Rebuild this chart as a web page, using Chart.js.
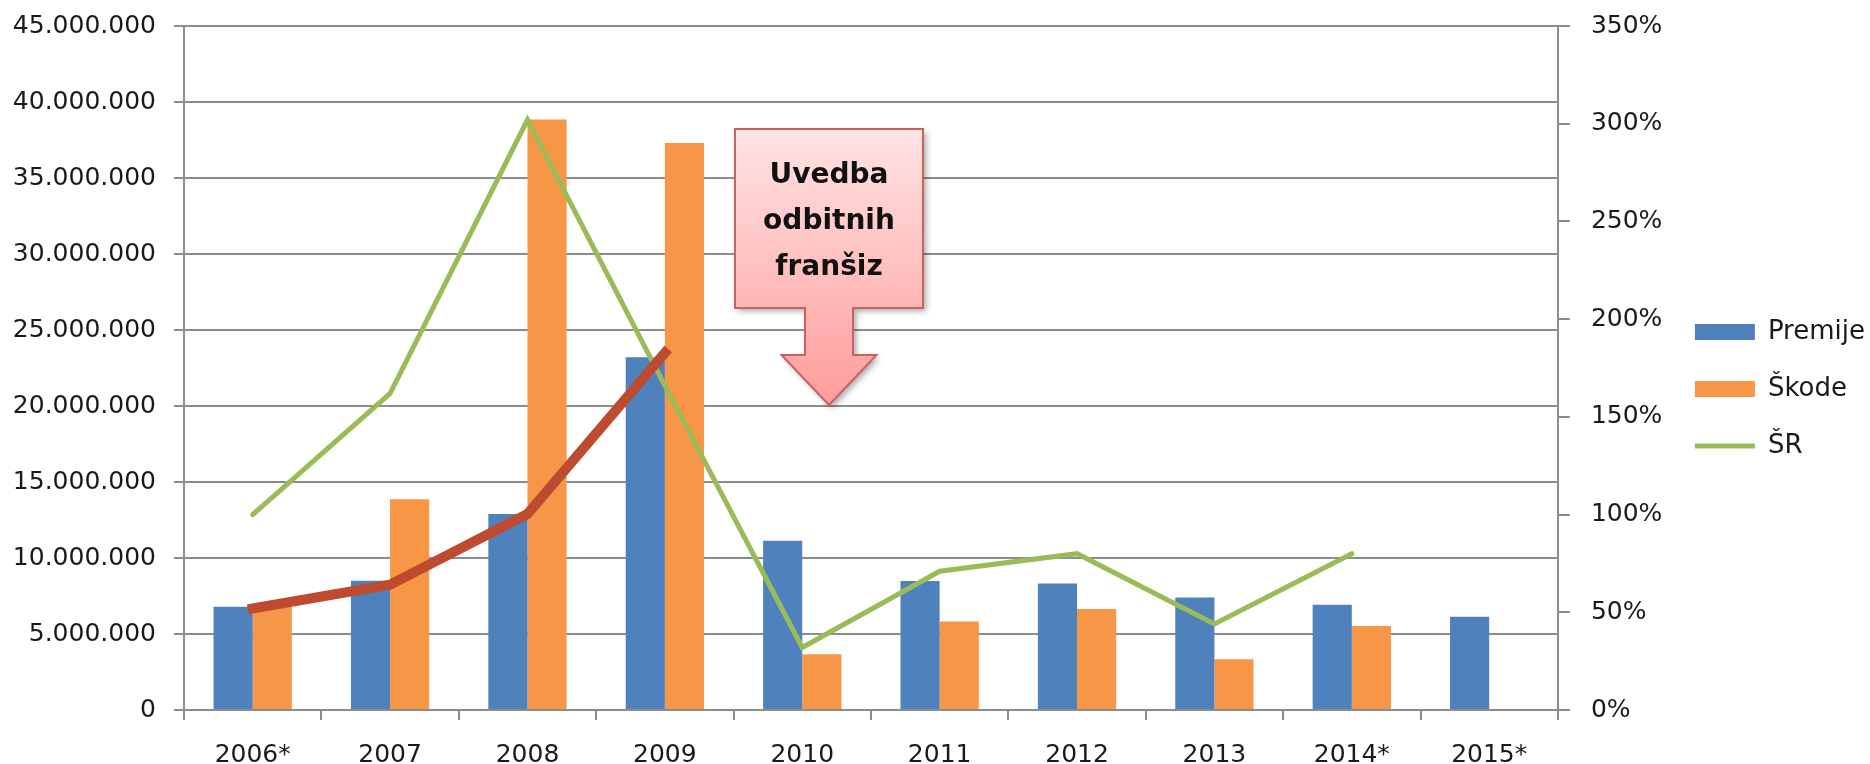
<!DOCTYPE html>
<html>
<head>
<meta charset="utf-8">
<script src="https://cdn.jsdelivr.net/npm/chart.js@4.4.0/dist/chart.umd.min.js"></script>
<style>
  html, body { margin: 0; padding: 0; background: #fff; }
</style>
</head>
<body>
<canvas id="chart" width="1870" height="764"></canvas>
<script>
// podatki, odčitani s slike
const years = ["2006*", "2007", "2008", "2009", "2010", "2011", "2012", "2013", "2014*", "2015*"];
const premije = [6800000, 8500000, 12900000, 23200000, 11140000, 8480000, 8320000, 7400000, 6930000, 6140000];
const skode = [6800000, 13860000, 38850000, 37300000, 3660000, 5820000, 6640000, 3340000, 5530000, null];
const sr = [100, 162, 302, 166, 32, 71, 80, 44, 80, null];
const trend = [6680000, 8240000, 12900000, 23500000, null, null, null, null, null, null];
const leftMax = 45000000, leftStep = 5000000;
const rightMax = 350, rightStep = 50;
const calloutText = ["Uvedba", "odbitnih", "franšiz"];

const gridColor = "#8c8c8c";
const textColor = "#1a1a1a";

Chart.defaults.font.family = "'DejaVu Sans', sans-serif";
Chart.defaults.font.size = 25;
Chart.defaults.color = textColor;

// formatiranje z pikami (45.000.000)
function dots(v) {
  return String(v).replace(/\B(?=(\d{3})+(?!\d))/g, ".");
}

// puščica z napisom
const callout = {
  id: "callout",
  afterDatasetsDraw(chart) {
    const ctx = chart.ctx;
    const a = chart.chartArea;
    const L = a.left + 551, R = a.left + 739, T = a.top + 103, B = a.top + 282;
    const cx = a.left + 645, headY = a.top + 329, tip = a.top + 379;
    const sw = 24, hw = 47.5;

    ctx.save();
    ctx.beginPath();
    ctx.moveTo(L, T);
    ctx.lineTo(R, T);
    ctx.lineTo(R, B);
    ctx.lineTo(cx + sw, B);
    ctx.lineTo(cx + sw, headY);
    ctx.lineTo(cx + hw, headY);
    ctx.lineTo(cx, tip);
    ctx.lineTo(cx - hw, headY);
    ctx.lineTo(cx - sw, headY);
    ctx.lineTo(cx - sw, B);
    ctx.lineTo(L, B);
    ctx.closePath();
    const g = ctx.createLinearGradient(0, T, 0, tip);
    g.addColorStop(0, "#ffe4e4");
    g.addColorStop(1, "#ff9c9c");
    ctx.fillStyle = g;
    ctx.shadowColor = "rgba(0,0,0,0.35)";
    ctx.shadowBlur = 6;
    ctx.shadowOffsetX = 3;
    ctx.shadowOffsetY = 3;
    ctx.fill();
    ctx.shadowColor = "transparent";
    ctx.strokeStyle = "#c9625f";
    ctx.lineWidth = 2;
    ctx.stroke();

    ctx.fillStyle = "#111";
    ctx.font = "bold 28px 'DejaVu Sans', sans-serif";
    ctx.textAlign = "center";
    ctx.textBaseline = "alphabetic";
    calloutText.forEach((t, i) => ctx.fillText(t, (L + R) / 2, T + 54 + i * 46));
    ctx.restore();
  }
};

new Chart(document.getElementById("chart"), {
  type: "bar",
  data: {
    labels: years,
    datasets: [
      {
        label: "Premije",
        data: premije,
        backgroundColor: "#4f81bd",
        borderWidth: 0,
        pointStyle: "rect",
        yAxisID: "y",
        order: 2,
      },
      {
        label: "Škode",
        data: skode,
        backgroundColor: "#f79646",
        borderWidth: 0,
        pointStyle: "rect",
        yAxisID: "y",
        order: 3,
      },
      {
        type: "line",
        label: "ŠR",
        data: sr,
        borderColor: "#9bbb59",
        backgroundColor: "#9bbb59",
        borderWidth: 5,
        borderCapStyle: "round",
        pointRadius: 0,
        pointStyle: "line",
        tension: 0,
        spanGaps: false,
        yAxisID: "y1",
        order: 1,
      },
      {
        type: "line",
        label: "trend",
        data: trend,
        borderColor: "#be4b30",
        backgroundColor: "#be4b30",
        borderWidth: 10,
        borderCapStyle: "square",
        pointRadius: 0,
        tension: 0,
        yAxisID: "y",
        order: 0,
      },
    ],
  },
  options: {
    responsive: false,
    devicePixelRatio: 1,
    animation: false,
    layout: { padding: { top: 14, right: -5, bottom: 0, left: 0 } },
    datasets: {
      bar: { categoryPercentage: 0.57, barPercentage: 1.0 },
    },
    plugins: {
      tooltip: { enabled: false },
      legend: {
        position: "right",
        labels: {
          usePointStyle: true,
          pointStyleWidth: 60,
          boxHeight: 16,
          padding: 31,
          font: { size: 26 },
          color: textColor,
          filter: (item) => item.text !== "trend",
          sort: (a, b) => a.datasetIndex - b.datasetIndex,
        },
      },
    },
    scales: {
      x: {
        grid: {
          offset: true,
          drawOnChartArea: false,
          drawTicks: true,
          tickLength: 10,
          color: gridColor,
          lineWidth: 2,
        },
        border: { color: gridColor, width: 2 },
        ticks: { padding: 20, maxRotation: 0, autoSkip: false },
        afterFit: (s) => { s.height = 54; },
      },
      y: {
        position: "left",
        min: 0,
        max: leftMax,
        grid: { color: gridColor, lineWidth: 2, tickLength: 10 },
        border: { color: gridColor, width: 2 },
        ticks: { stepSize: leftStep, padding: 18, callback: (v) => dots(v) },
        afterFit: (s) => { s.width = 184; s.paddingTop = 26; s.paddingBottom = 0; },
      },
      y1: {
        position: "right",
        min: 0,
        max: rightMax,
        grid: { drawOnChartArea: false, color: gridColor, lineWidth: 2, tickLength: 12 },
        border: { color: gridColor, width: 2 },
        ticks: { stepSize: rightStep, padding: 21, callback: (v) => v + "%" },
        afterFit: (s) => { s.width = 106; s.paddingTop = 26; s.paddingBottom = 0; },
      },
    },
  },
  plugins: [callout],
});
</script>
</body>
</html>
